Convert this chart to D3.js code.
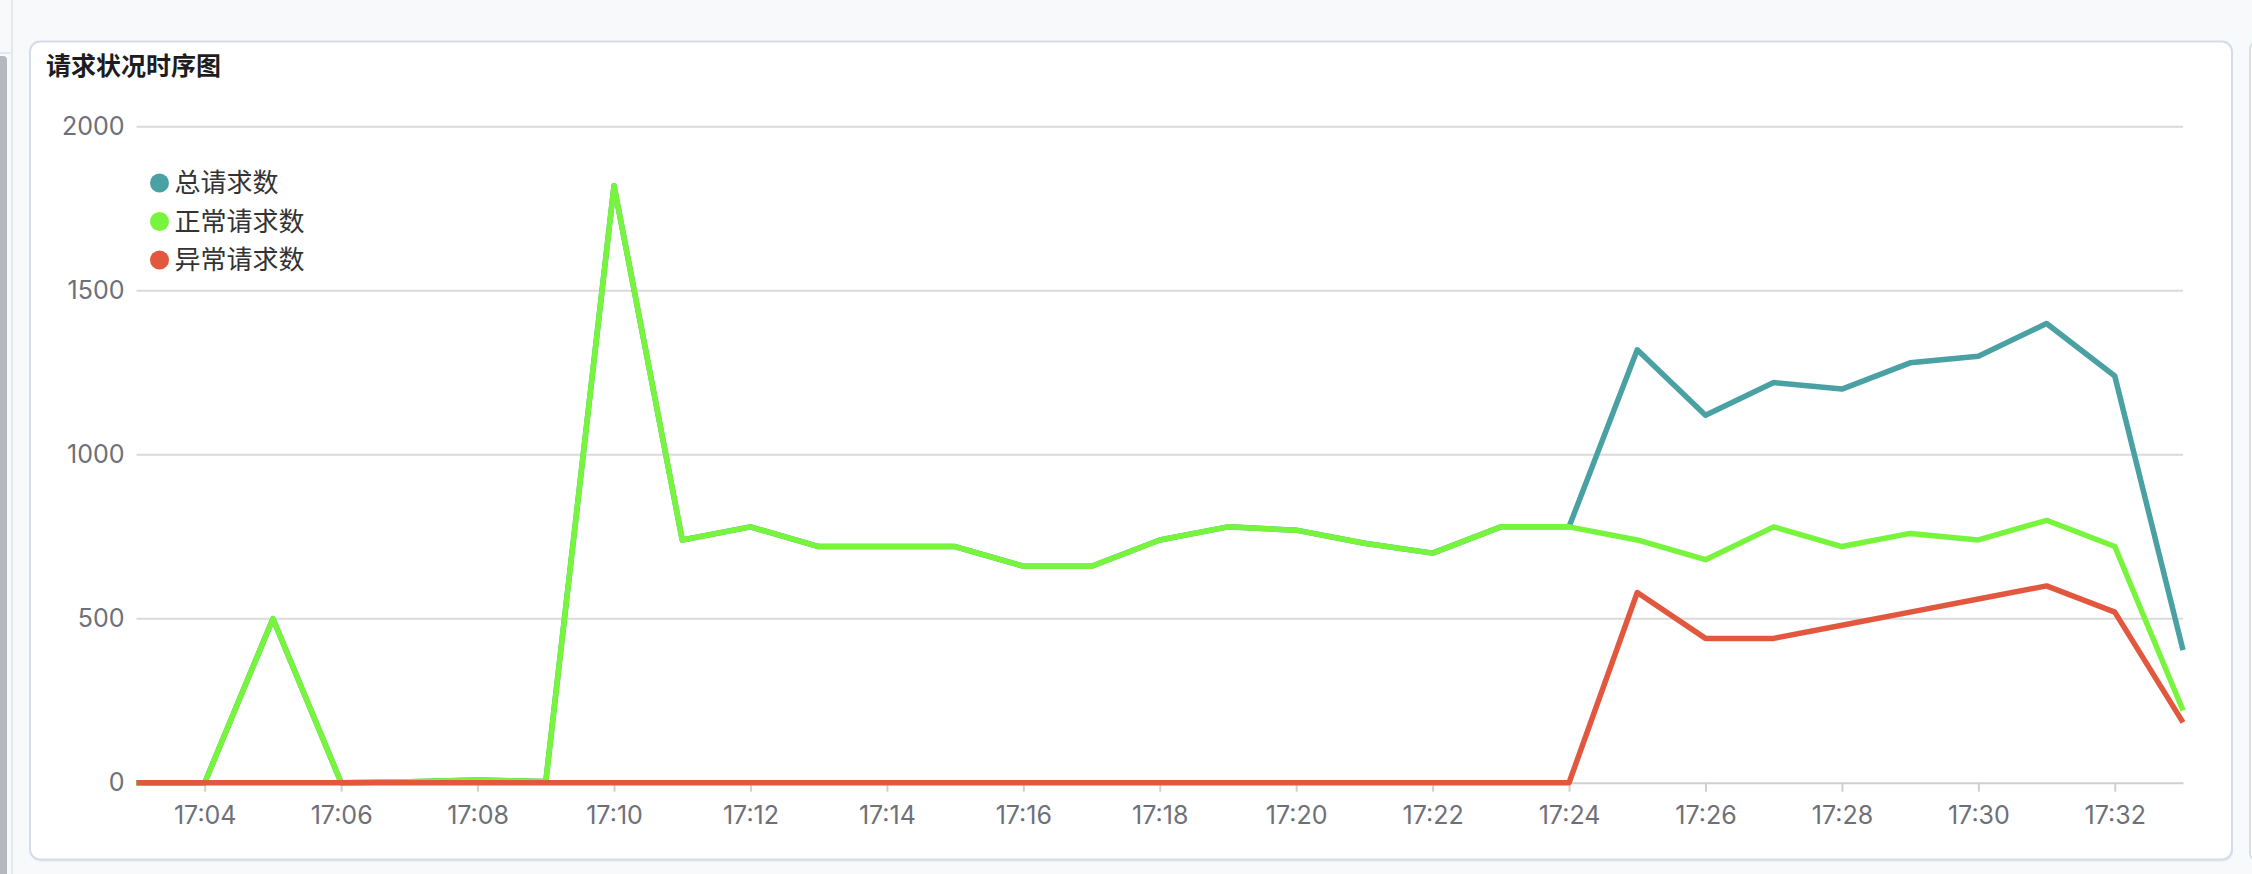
<!DOCTYPE html>
<html>
<head>
<meta charset="utf-8">
<script src="https://cdn.jsdelivr.net/npm/d3@7"></script>
<style>
  html, body { margin: 0; padding: 0; background: #f8f9fb; }
  svg { display: block; }
</style>
</head>
<body>
<svg id="chart" width="2252" height="874"></svg>
<script>
const categories = ["17:03","17:04","17:05","17:06","17:07","17:08","17:09","17:10","17:11","17:12",
  "17:13","17:14","17:15","17:16","17:17","17:18","17:19","17:20","17:21","17:22",
  "17:23","17:24","17:25","17:26","17:27","17:28","17:29","17:30","17:31","17:32","17:33"];
const normalRequests = [0,0,500,0,3,8,4,1820,740,780,720,720,720,660,660,740,780,770,730,700,
  780,780,740,680,780,720,760,740,800,720,220];
const abnormalRequests = [0,0,0,0,0,0,0,0,0,0,0,0,0,0,0,0,0,0,0,0,
  0,0,580,440,440,480,520,560,600,520,184];
const totalRequests = [0,0,500,0,3,8,4,1820,740,780,720,720,720,660,660,740,780,770,730,700,
  780,780,1320,1120,1220,1200,1280,1300,1400,1240,404];
const yTicks = [0, 500, 1000, 1500, 2000];
const xTickLabels = ["17:04","17:06","17:08","17:10","17:12","17:14","17:16","17:18","17:20","17:22",
  "17:24","17:26","17:28","17:30","17:32"];
const seriesNames = ["总请求数", "正常请求数", "异常请求数"];
const seriesColors = ["#4aa1a4", "#77f53c", "#e2583f"];
const title = "请求状况时序图";

const svg = d3.select("#chart");
const numFont = "Inter, 'Noto Sans CJK SC', sans-serif";
const cjkFont = "'Noto Sans CJK SC', 'Noto Sans', sans-serif";

// page chrome
svg.append("rect").attr("x", 0).attr("y", 0).attr("width", 2252).attr("height", 874).attr("fill", "#f8f9fb");
svg.append("line").attr("x1", 0).attr("x2", 12).attr("y1", 53).attr("y2", 53).attr("stroke", "#e4e7ec").attr("stroke-width", 2);
svg.append("line").attr("x1", 12).attr("x2", 12).attr("y1", 0).attr("y2", 874).attr("stroke", "#e6e8ed").attr("stroke-width", 2);
svg.append("rect").attr("x", -10).attr("y", 56).attr("width", 17).attr("height", 830).attr("rx", 4).attr("fill", "#b5b8bf");
svg.append("rect").attr("x", 2250).attr("y", 41).attr("width", 30).attr("height", 820).attr("rx", 8)
  .attr("fill", "#ffffff").attr("stroke", "#d8deea").attr("stroke-width", 2);

// card
svg.append("rect").attr("x", 31).attr("y", 44).attr("width", 2202).attr("height", 818).attr("rx", 10)
  .attr("fill", "#e3e7ee").attr("opacity", 0.6);
svg.append("rect").attr("x", 30).attr("y", 41.5).attr("width", 2202).attr("height", 818).attr("rx", 10)
  .attr("fill", "#ffffff").attr("stroke", "#d5dbe7").attr("stroke-width", 2);

svg.append("text").attr("x", 46).attr("y", 75).text(title)
  .attr("font-family", cjkFont).attr("font-size", 25).attr("font-weight", 700).attr("fill", "#1d1d1f");

// scales
const x = d3.scalePoint().domain(categories).range([136.5, 2183]);
const y = d3.scaleLinear().domain([0, 2000]).range([782.7, 126.7]);

// grid
const grid = svg.append("g");
grid.selectAll("line").data(yTicks.filter(d => d !== 0)).join("line")
  .attr("x1", 136.5).attr("x2", 2183)
  .attr("y1", d => y(d)).attr("y2", d => y(d))
  .attr("stroke", "#dadada").attr("stroke-width", 2);

// y axis
const yAxis = svg.append("g").attr("transform", "translate(136.5,0)")
  .call(d3.axisLeft(y).tickValues(yTicks).tickFormat(d3.format("d")).tickSize(0).tickPadding(12));
yAxis.select(".domain").remove();
yAxis.selectAll("text").attr("font-family", numFont).attr("font-size", 25).attr("fill", "#6e7079")
  .attr("dy", "0.3em");

// x axis
const xAxis = svg.append("g").attr("transform", `translate(0,${y(0)})`)
  .call(d3.axisBottom(x).tickValues(xTickLabels).tickSize(9).tickPadding(12).tickSizeOuter(0));
xAxis.select(".domain").attr("stroke", "#d0d0d0").attr("stroke-width", 2);
xAxis.selectAll(".tick line").attr("stroke", "#d0d0d0").attr("stroke-width", 2);
xAxis.selectAll("text").attr("font-family", numFont).attr("font-size", 25).attr("fill", "#6e7079")
  .attr("dy", "0.82em");

// lines
const allSeries = [totalRequests, normalRequests, abnormalRequests];
const line = d3.line().x((d, i) => x(categories[i])).y(d => y(d));
svg.append("g").selectAll("path").data(allSeries).join("path")
  .attr("d", d => line(d))
  .attr("fill", "none")
  .attr("stroke", (d, i) => seriesColors[i])
  .attr("stroke-width", 5.5)
  .attr("stroke-linejoin", "round")
  .attr("stroke-linecap", "butt");

// legend
const legend = svg.append("g");
const legendY = [183, 221.5, 260];
const items = legend.selectAll("g").data(seriesNames).join("g")
  .attr("transform", (d, i) => `translate(159.5,${legendY[i]})`);
items.append("circle").attr("r", 9.5).attr("fill", (d, i) => seriesColors[i]);
items.append("text").attr("x", 15).attr("y", 0).attr("dy", "0.36em").text(d => d)
  .attr("font-family", cjkFont).attr("font-size", 26).attr("fill", "#333333");
</script>
</body>
</html>
